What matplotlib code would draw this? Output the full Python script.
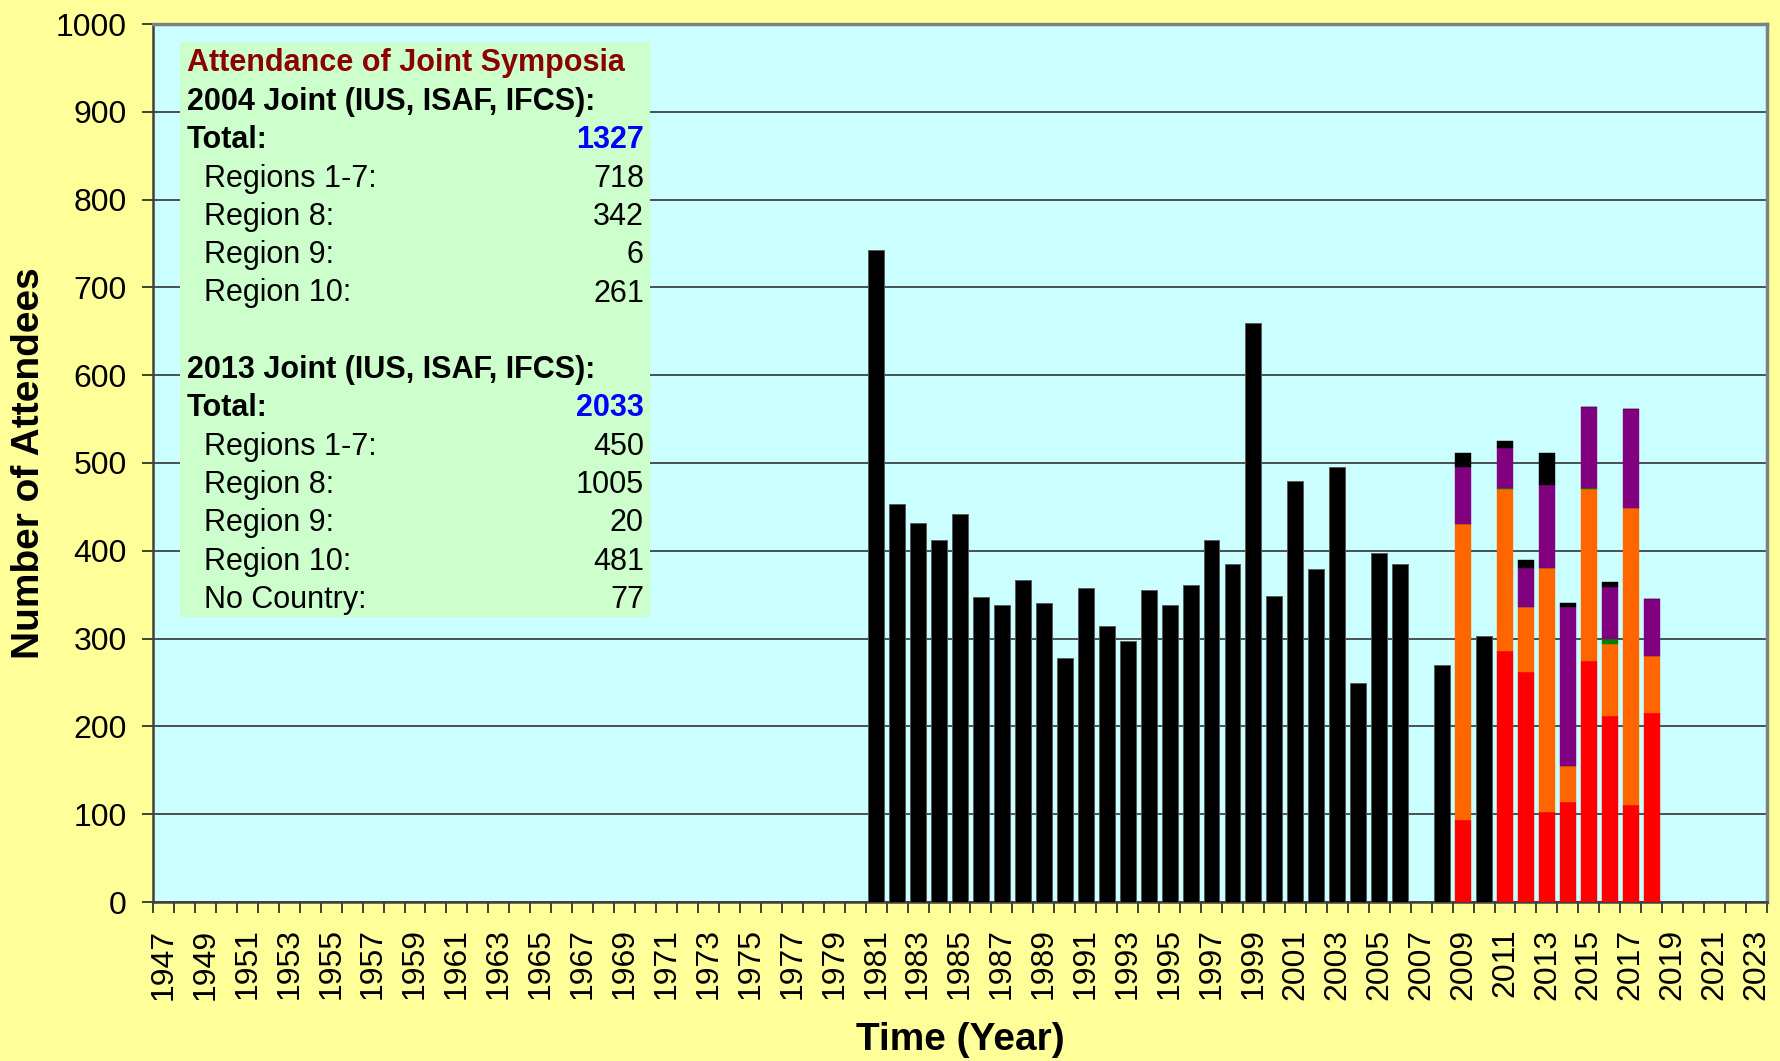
import numpy as np
import matplotlib
matplotlib.use("Agg")
import matplotlib.pyplot as plt
from matplotlib.patches import Rectangle
from matplotlib.ticker import FixedLocator, MultipleLocator

plt.rcParams['font.family'] = ['Liberation Sans', 'DejaVu Sans']

# data
years = list(range(1947, 2024))

# years with only a total count (black bars)
total_years = list(range(1981, 2007)) + [2008, 2010]
total_vals = [743, 453, 432, 412, 442, 347, 338, 367, 341, 278,
              358, 314, 297, 355, 338, 361, 412, 385, 660, 349,
              480, 379, 495, 249, 397, 385, 270, 303]

# years split by region (stacked bars)
split_years = [2009, 2011, 2012, 2013, 2014, 2015, 2016, 2017, 2018]
reg_1_7 = [93, 286, 262, 102, 114, 274, 212, 111, 215]
reg_8 = [338, 184, 74, 278, 41, 196, 82, 338, 65]
reg_9 = [0, 2, 0, 0, 0, 2, 6, 0, 0]
reg_10 = [65, 45, 44, 95, 181, 92, 59, 112, 65]
no_country = [15, 8, 9, 36, 5, 0, 6, 0, 0]

# text box content
box_title = "Attendance of Joint Symposia"
box_2004 = [("Regions 1-7:", "718"), ("Region 8:", "342"), ("Region 9:", "6"), ("Region 10:", "261")]
box_2013 = [("Regions 1-7:", "450"), ("Region 8:", "1005"), ("Region 9:", "20"),
            ("Region 10:", "481"), ("No Country:", "77")]

W, H = 1781, 1061
fig = plt.figure(figsize=(W / 100, H / 100), dpi=100, facecolor='#FFFF99')
ax = fig.add_axes([153 / W, 1 - 902 / H, (1767 - 153) / W, (902 - 24) / H])
ax.set_facecolor('#CCFFFF')

bw = 0.76
ax.bar(total_years, total_vals, width=bw, color='black', edgecolor='#555555', lw=0.6, zorder=3)

seg_colors = ['#FF0000', '#FF6600', '#008000', '#800080', 'black']
bottom = np.zeros(len(split_years))
for vals, c in zip([reg_1_7, reg_8, reg_9, reg_10, no_country], seg_colors):
    vals = np.array(vals, dtype=float)
    ax.bar(split_years, vals, width=bw, bottom=bottom, color=c, edgecolor=c, lw=0.3, zorder=3)
    bottom += vals

ax.set_xlim(years[0] - 0.5, years[-1] + 0.5)
ax.set_ylim(0, 1000)
ax.yaxis.set_major_locator(MultipleLocator(100))
ax.grid(axis='y', color='#333333', lw=1.2, zorder=1)
ax.set_axisbelow(True)

ax.xaxis.set_major_locator(FixedLocator(years[::2]))
ax.set_xticklabels([str(y) for y in years[::2]], rotation=90)
ax.xaxis.set_minor_locator(FixedLocator(np.arange(years[0] - 0.5, years[-1] + 1, 1)))
ax.tick_params(axis='x', which='major', length=0, pad=19, labelsize=23)
ax.tick_params(axis='x', which='minor', length=8, width=1.2, color='#222222', direction='out')
ax.tick_params(axis='y', length=8, width=1.2, color='#222222', pad=11, labelsize=23)

for s in ['left', 'bottom']:
    ax.spines[s].set_color('#404040')
    ax.spines[s].set_linewidth(1.8)
for s in ['top', 'right']:
    ax.spines[s].set_color('#808080')
    ax.spines[s].set_linewidth(2.5)

ax.set_ylabel("Number of Attendees", fontsize=28, fontweight='bold', labelpad=6)
ax.set_xlabel("Time (Year)", fontsize=28, fontweight='bold', labelpad=16)

# text box in figure pixel coordinates
def fx(px):
    return px / W

def fy(py):
    return 1 - py / H

fig.patches.append(Rectangle((fx(180), fy(617)), fx(650) - fx(180), fy(42) - fy(617),
                             transform=fig.transFigure, facecolor='#CCFFCC', edgecolor='none', zorder=5))

fs = 22
x_bold, x_ind, x_right = 187, 204, 644
fig.text(fx(x_bold), fy(63), box_title, color='#8B0000', fontsize=fs, fontweight='bold', va='center', zorder=6)
y = 102
step = 38.3
fig.text(fx(x_bold), fy(y), "2004 Joint (IUS, ISAF, IFCS):", fontsize=fs, fontweight='bold', va='center', zorder=6)
y += step
fig.text(fx(x_bold), fy(y), "Total:", fontsize=fs, fontweight='bold', va='center', zorder=6)
fig.text(fx(x_right), fy(y), "1327", fontsize=fs, fontweight='bold', color='#0000FF', ha='right', va='center', zorder=6)
for lab, v in box_2004:
    y += step
    fig.text(fx(x_ind), fy(y), lab, fontsize=fs, va='center', zorder=6)
    fig.text(fx(x_right), fy(y), v, fontsize=fs, ha='right', va='center', zorder=6)
y += 2 * step
fig.text(fx(x_bold), fy(y), "2013 Joint (IUS, ISAF, IFCS):", fontsize=fs, fontweight='bold', va='center', zorder=6)
y += step
fig.text(fx(x_bold), fy(y), "Total:", fontsize=fs, fontweight='bold', va='center', zorder=6)
fig.text(fx(x_right), fy(y), "2033", fontsize=fs, fontweight='bold', color='#0000FF', ha='right', va='center', zorder=6)
for lab, v in box_2013:
    y += step
    fig.text(fx(x_ind), fy(y), lab, fontsize=fs, va='center', zorder=6)
    fig.text(fx(x_right), fy(y), v, fontsize=fs, ha='right', va='center', zorder=6)

fig.savefig("out.png", dpi=100, facecolor=fig.get_facecolor())
